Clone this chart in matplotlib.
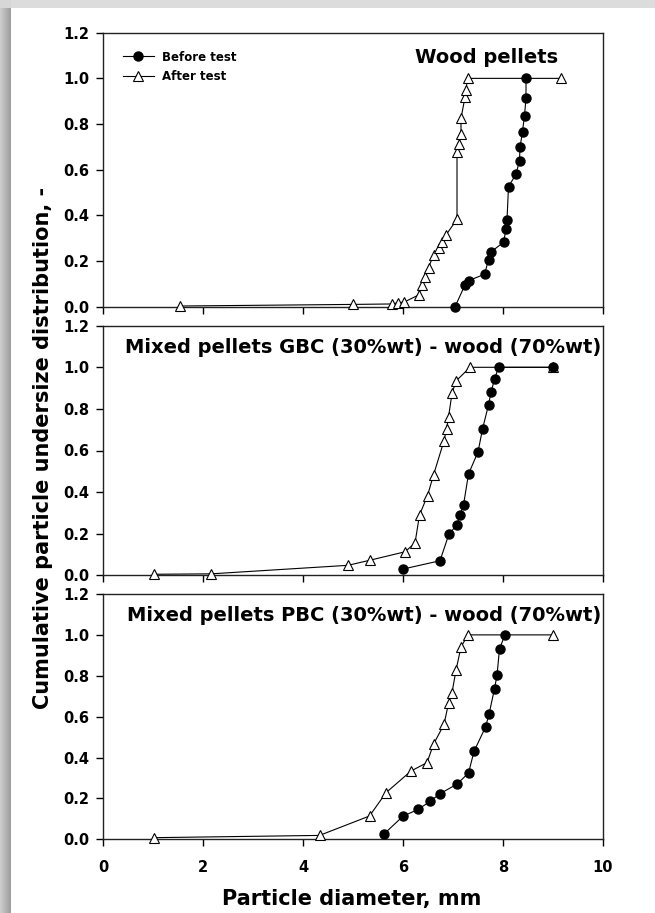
import numpy as np
import matplotlib
matplotlib.use('Agg')
import matplotlib.pyplot as plt

plt.rcParams['font.family'] = ['DejaVu Sans']
plt.rcParams['font.weight'] = 'bold'

# Wood pellets
wood_before_x = [7.04, 7.24, 7.31, 7.63, 7.71, 7.76, 8.01, 8.06, 8.08, 8.11, 8.26, 8.33, 8.34, 8.39, 8.43, 8.46, 8.46]
wood_before_y = [0.0, 0.095, 0.114, 0.142, 0.205, 0.24, 0.282, 0.339, 0.38, 0.526, 0.58, 0.64, 0.698, 0.767, 0.837, 0.913, 1.0]
wood_after_x = [1.54, 5.0, 5.78, 5.89, 6.02, 6.31, 6.38, 6.44, 6.51, 6.61, 6.71, 6.78, 6.86, 7.08, 7.08, 7.12, 7.16, 7.16, 7.24, 7.26, 7.29, 9.16]
wood_after_y = [0.003, 0.01, 0.012, 0.017, 0.02, 0.051, 0.095, 0.129, 0.171, 0.226, 0.256, 0.285, 0.314, 0.383, 0.679, 0.713, 0.756, 0.825, 0.917, 0.949, 1.0, 1.0]

# GBC (30%wt) - wood (70%wt)
gbc_before_x = [6.0, 6.74, 6.92, 7.08, 7.14, 7.21, 7.31, 7.5, 7.59, 7.71, 7.76, 7.83, 7.91, 9.0]
gbc_before_y = [0.03, 0.07, 0.199, 0.242, 0.29, 0.338, 0.487, 0.593, 0.703, 0.819, 0.88, 0.942, 1.0, 1.0]
gbc_after_x = [1.02, 2.16, 4.9, 5.33, 6.04, 6.24, 6.33, 6.49, 6.61, 6.82, 6.87, 6.91, 6.98, 7.06, 7.34, 9.0]
gbc_after_y = [0.005, 0.007, 0.048, 0.072, 0.113, 0.155, 0.29, 0.383, 0.482, 0.647, 0.703, 0.76, 0.875, 0.934, 1.0, 1.0]

# PBC (30%wt) - wood (70%wt)
pbc_before_x = [5.62, 6.0, 6.3, 6.54, 6.74, 7.08, 7.31, 7.42, 7.65, 7.72, 7.83, 7.88, 7.93, 8.04]
pbc_before_y = [0.026, 0.113, 0.146, 0.185, 0.223, 0.27, 0.324, 0.43, 0.549, 0.611, 0.737, 0.802, 0.932, 1.0]
pbc_after_x = [1.02, 4.33, 5.33, 5.66, 6.16, 6.48, 6.61, 6.82, 6.91, 6.98, 7.06, 7.16, 7.3, 9.0]
pbc_after_y = [0.008, 0.019, 0.114, 0.228, 0.334, 0.375, 0.465, 0.562, 0.665, 0.717, 0.827, 0.941, 1.0, 1.0]

titles = ['Wood pellets',
          'Mixed pellets GBC (30%wt) - wood (70%wt)',
          'Mixed pellets PBC (30%wt) - wood (70%wt)']
xticks = [0, 2, 4, 6, 8, 10]
yticks = [0.0, 0.2, 0.4, 0.6, 0.8, 1.0, 1.2]

W, H = 655, 913
fig = plt.figure(figsize=(W / 100, H / 100), dpi=100)

# grey slide border on the left and top
bg = fig.add_axes([0, 0, 1, 1], zorder=-10)
img = np.ones((H, W))
img[:8, :] = 0.86
for i in range(11):
    img[:, i] = 0.80 - 0.018 * i
img[:8, :11] = 0.84
bg.imshow(img, cmap='gray', vmin=0, vmax=1, aspect='auto', interpolation='nearest')
bg.axis('off')

# panel boxes in pixels: top, bottom
boxes = [(32.7, 306.7), (325.7, 575.3), (594.0, 839.3)]
left, right = 103, 603
title_pos = [(0.91, 0.889), (0.996, 0.891), (0.996, 0.888)]

series = [(wood_before_x, wood_before_y, wood_after_x, wood_after_y),
          (gbc_before_x, gbc_before_y, gbc_after_x, gbc_after_y),
          (pbc_before_x, pbc_before_y, pbc_after_x, pbc_after_y)]

axes = []
for k, (top, bot) in enumerate(boxes):
    ax = fig.add_axes([left / W, 1 - bot / H, (right - left) / W, (bot - top) / H])
    bx, by, axx, ayy = series[k]
    z_before = 4 if k == 1 else 3
    ax.plot(bx, by, '-o', color='black', lw=0.8, ms=6.5, mfc='black', mec='black',
            clip_on=False, zorder=z_before, label='Before test')
    ax.plot(axx, ayy, '-^', color='black', lw=0.8, ms=6.5, mfc='white', mec='black',
            mew=0.8, clip_on=False, zorder=3.5, label='After test')
    ax.set_xlim(0, 10)
    ax.set_ylim(0, 1.2)
    ax.set_xticks(xticks)
    ax.set_yticks(yticks)
    ax.set_yticklabels(['%.1f' % v for v in yticks])
    ax.tick_params(axis='both', direction='out', length=5, width=1, top=False, right=False,
                   labelsize=10.5, colors='black')
    ax.tick_params(axis='y', pad=5)
    ax.tick_params(axis='x', pad=10)
    if k < 2:
        ax.set_xticklabels([])
    for s in ax.spines.values():
        s.set_linewidth(1.0)
        s.set_color('#222222')
    tx, ty = title_pos[k]
    ax.text(tx, ty, titles[k], transform=ax.transAxes, ha='right', va='baseline',
            fontsize=14, fontweight='bold')
    axes.append(ax)

axes[0].legend(loc='upper left', bbox_to_anchor=(0.04, 0.935), frameon=False,
               borderpad=0, borderaxespad=0, handlelength=2.6, handletextpad=0.7,
               labelspacing=0.55, prop={'size': 8.5, 'weight': 'bold'})

fig.text(43 / W, 1 - 448 / H, 'Cumulative particle undersize distribution, -',
         rotation=90, ha='center', va='center', fontsize=15, fontweight='bold')
fig.text(352 / W, 1 - 905 / H, 'Particle diameter, mm', ha='center', va='baseline',
         fontsize=15, fontweight='bold')

fig.savefig('out.png', dpi=100)
